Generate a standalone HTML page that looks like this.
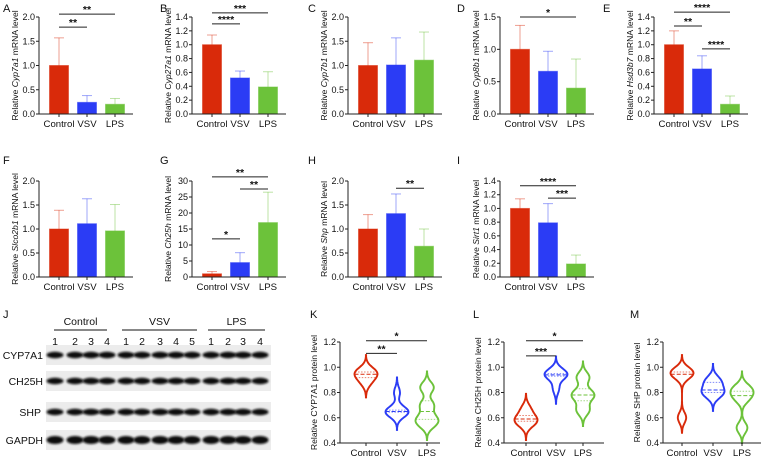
<!DOCTYPE html>
<html><head><meta charset="utf-8"><style>
html,body{margin:0;padding:0;background:#fff}
svg{display:block;font-family:"Liberation Sans",Arial,sans-serif}
</style></head><body>
<svg id="fig" width="761" height="456" viewBox="0 0 761 456">
<defs><filter id="blur" x="-20%" y="-50%" width="140%" height="200%"><feGaussianBlur stdDeviation="1.1"/></filter></defs>
</svg>
<script>
const categories=["Control","VSV","LPS"];
const aValues=[1.0,0.24,0.2], aErrors=[0.57,0.14,0.12];
const bValues=[1.0,0.52,0.39], bErrors=[0.14,0.1,0.22];
const cValues=[1.0,1.01,1.11], cErrors=[0.47,0.56,0.58];
const dValues=[1.0,0.66,0.40], dErrors=[0.37,0.31,0.45];
const eValues=[1.0,0.65,0.14], eErrors=[0.2,0.19,0.12];
const fValues=[1.0,1.11,0.96], fErrors=[0.39,0.52,0.55];
const gValues=[1.0,4.5,17.0], gErrors=[0.7,3.1,9.5];
const hValues=[1.0,1.32,0.64], hErrors=[0.3,0.41,0.36];
const iValues=[1.0,0.79,0.19], iErrors=[0.14,0.28,0.13];
const aTicks=[0,0.5,1,1.5,2], bTicks=[0,0.2,0.4,0.6,0.8,1.0,1.2,1.4], dTicks=[0,0.5,1,1.5], gTicks=[0,5,10,15,20,25,30];
const kControl=[0.88,0.93,0.96,0.97], kVSV=[0.63,0.645,0.65,0.66,0.80], kLPS=[0.55,0.60,0.70,0.84];
const lControl=[0.55,0.58,0.60,0.67], lVSV=[0.83,0.93,0.94,0.95,0.96], lLPS=[0.66,0.76,0.80,0.92];
const mControl=[0.60,0.93,0.96,0.97], mVSV=[0.78,0.80,0.82,0.88,0.90], mLPS=[0.52,0.75,0.80,0.84];
const violinTicks=[0.4,0.6,0.8,1.0,1.2];

const NS="http://www.w3.org/2000/svg", svg=document.getElementById('fig');
const colors=["#d92a0a","#2b3cf5","#6cc23a"];
function el(tag,attrs,parent){const e=document.createElementNS(NS,tag);for(const k in attrs)e.setAttribute(k,attrs[k]);(parent||svg).appendChild(e);return e;}
function txt(s,x,y,size,anchor,parent,extra){const t=el('text',Object.assign({x:x,y:y,'font-size':size,'text-anchor':anchor||'middle',fill:'#111'},extra||{}),parent);t.textContent=s;return t;}

function letter(s,x,y){const t=txt(s,x,y,11,'start');}

function yTitle(g,x,cy,pre,ital,post){
  const t=el('text',{x:0,y:0,'font-size':8.6,'text-anchor':'middle',fill:'#111',transform:`translate(${x},${cy}) rotate(-90)`},g);
  
  const a=el('tspan',{},t);a.textContent=pre;
  if(ital){const b=el('tspan',{'font-style':'italic'},t);b.textContent=ital;}
  const c=el('tspan',{},t);c.textContent=post;
}

function axes(g,ax,top,bot,max,min,ticks,dec,xEnd,cx,yFn){
  const ya=el('line',{x1:ax,y1:top,x2:ax,y2:bot,stroke:'#222','stroke-width':1},g);
  
  ticks.forEach(v=>{const y=yFn(v);el('line',{x1:ax-3,y1:y,x2:ax,y2:y,stroke:'#222'},g);
    const t=txt(v.toFixed(dec),ax-4,y+3,9,'end',g);});
  const xa=el('line',{x1:ax,y1:bot,x2:xEnd,y2:bot,stroke:'#222'},g);
  
  categories.forEach((c,i)=>{el('line',{x1:cx[i],y1:bot,x2:cx[i],y2:bot+3,stroke:'#222'},g);
    const t=txt(c,cx[i],bot+13,9.6,'middle',g);});
}

function sig(g,cx,yFn,sigs){
  sigs.forEach(s=>{const y=yFn(s[2]);
    const l=el('line',{x1:cx[s[0]],y1:y,x2:cx[s[1]],y2:y,stroke:'#222','stroke-width':1},g);
    
    const t=txt(s[3],(cx[s[0]]+cx[s[1]])/2,y-1,10.5,'middle',g,{'font-weight':'bold'});
    });
}

function barPanel(name,ax,top,bot,max,ticks,dec,vals,errs,sigs,pre,ital,post){
  const g=el('g',{});
  const cx=[ax+20,ax+48,ax+76];
  const yFn=v=>bot-(v/max)*(bot-top);
  vals.forEach((v,i)=>{
    const y=yFn(v+errs[i]);
    const e=el('line',{x1:cx[i],y1:yFn(v),x2:cx[i],y2:y,stroke:colors[i],'stroke-opacity':0.45,'stroke-width':1},g);
    
    el('line',{x1:cx[i]-5,y1:y,x2:cx[i]+5,y2:y,stroke:colors[i],'stroke-opacity':0.45},g);
    const r=el('rect',{x:cx[i]-9.5,y:yFn(v),width:19,height:bot-yFn(v),fill:colors[i],stroke:colors[i],'stroke-opacity':0.5},g);
    
  });
  axes(g,ax,top,bot,max,0,ticks,dec,ax+94,cx,yFn);
  sig(g,cx,yFn,sigs);
  yTitle(g,ax-21,(top+bot)/2,pre,ital,post);
}

barPanel('panel-a-cyp7a1',39,17,114,2,aTicks,1,aValues,aErrors,[[0,2,2.06,'**'],[0,1,1.79,'**']],'Relative ','Cyp7a1',' mRNA level');
barPanel('panel-b-cyp27a1',192,17,114,1.4,bTicks,1,bValues,bErrors,[[0,2,1.46,'***'],[0,1,1.30,'****']],'Relative ','Cyp27a1',' mRNA level');
barPanel('panel-c-cyp7b1',348,17,114,2,aTicks,1,cValues,cErrors,[],'Relative ','Cyp7b1',' mRNA level');
barPanel('panel-d-cyp8b1',500,17,114,1.5,dTicks,1,dValues,dErrors,[[0,2,1.5,'*']],'Relative ','Cyp8b1',' mRNA level');
barPanel('panel-e-hsd3b7',654,17,114,1.4,bTicks,1,eValues,eErrors,[[0,2,1.47,'****'],[0,1,1.27,'**'],[1,2,0.94,'****']],'Relative ','Hsd3b7',' mRNA level');
barPanel('panel-f-slco2b1',39,181,277,2,aTicks,1,fValues,fErrors,[],'Relative ','Slco2b1',' mRNA level');
barPanel('panel-g-ch25h',192,181,277,30,gTicks,0,gValues,gErrors,[[0,2,31.3,'**'],[1,2,27.5,'**'],[0,1,11.9,'*']],'Relative ','Ch25h',' mRNA level');
barPanel('panel-h-shp',348,181,277,2,aTicks,1,hValues,hErrors,[[1,2,1.85,'**']],'Relative ','Shp',' mRNA level');
barPanel('panel-i-sirt1',500,181,277,1.4,bTicks,1,iValues,iErrors,[[0,2,1.33,'****'],[1,2,1.15,'***']],'Relative ','Sirt1',' mRNA level');

function quant(a,p){const s=[...a].sort((x,y)=>x-y);const pos=(s.length-1)*p;const lo=Math.floor(pos),hi=Math.ceil(pos);return s[lo]+(s[hi]-s[lo])*(pos-lo);}
function violinPanel(name,ax,offs,groups,sigs,title){
  const top=342,bot=443,min=0.4,max=1.2;
  const g=el('g',{});
  const cx=offs.map(o=>ax+o);
  const yFn=v=>bot-(v-min)/(max-min)*(bot-top);
  groups.forEach((vals,i)=>{
    const h=0.042,lo=Math.max(min,Math.min(...vals)-3*h),hi=Math.max(...vals)+3*h;
    const pts=[];let dm=0;
    for(let k=0;k<=60;k++){const y=lo+(hi-lo)*k/60;let d=0;vals.forEach(v=>d+=Math.exp(-0.5*((y-v)/h)**2));pts.push([y,d]);dm=Math.max(dm,d);}
    const W=11.5;
    let p='';pts.forEach((q,k)=>{p+=(k?'L':'M')+(cx[i]+q[1]/dm*W).toFixed(1)+','+yFn(q[0]).toFixed(1);});
    for(let k=pts.length-1;k>=0;k--){p+='L'+(cx[i]-pts[k][1]/dm*W).toFixed(1)+','+yFn(pts[k][0]).toFixed(1);}
    const v=el('path',{d:p+'Z',fill:'none',stroke:colors[i],'stroke-width':1.9},g);
    
    const wAt=y=>{let d=0;vals.forEach(x=>d+=Math.exp(-0.5*((y-x)/h)**2));return d/dm*W;};
    [[0.25,'1.5,1.5'],[0.5,'4,2'],[0.75,'1.5,1.5']].forEach(qq=>{const q=quant(vals,qq[0]);const w=wAt(q);
      el('line',{x1:cx[i]-w,y1:yFn(q),x2:cx[i]+w,y2:yFn(q),stroke:colors[i],'stroke-width':1,'stroke-dasharray':qq[1],'stroke-opacity':qq[0]==0.5?1:0.6},g);});
  });
  axes(g,ax,top,bot,max,min,violinTicks,1,ax+100,cx,yFn);
  sig(g,cx,yFn,sigs);
  yTitle(g,ax-23,(top+bot)/2,'Relative '+title+' protein level','','');
}
violinPanel('panel-k-cyp7a1-protein',340,[26,57,87],[kControl,kVSV,kLPS],[[0,2,1.21,'*'],[0,1,1.11,'**']],'CYP7A1');
violinPanel('panel-l-ch25h-protein',504,[22,52,79],[lControl,lVSV,lLPS],[[0,2,1.21,'*'],[0,1,1.09,'***']],'CH25H');
violinPanel('panel-m-shp-protein',663,[19,50,79],[mControl,mVSV,mLPS],[],'SHP');

letter('A',3,12);letter('B',160,12);letter('C',308,12);letter('D',457,12);letter('E',603,12);
letter('F',3,164);letter('G',160,164);letter('H',308,164);letter('I',457,164);
letter('J',3,318);letter('K',310,318);letter('L',473,318);letter('M',630,318);

const wb=el('g',{});
const laneLabels=["1","2","3","4","1","2","3","4","5","1","2","3","4"];
const lanes=[55,75,91,107,126,142,160,176,192,211,228,243,260];
const groupsWB=[["Control",54,107],["VSV",122,197],["LPS",208,265]];
groupsWB.forEach(gr=>{const t=txt(gr[0],(gr[1]+gr[2])/2,325,10.5,'middle',wb);
  el('line',{x1:gr[1],y1:330,x2:gr[2],y2:330,stroke:'#111'},wb);});
laneLabels.forEach((s,i)=>{const t=txt(s,lanes[i],345,10.5,'middle',wb);});
const proteins=[["CYP7A1",355],["CH25H",381],["SHP",412],["GAPDH",440]];
proteins.forEach(p=>{
  const t=txt(p[0],p[0]=="SHP"?41:43,p[1]+4,10.5,'end',wb);
  el('rect',{x:46,y:p[1]-10,width:225,height:20,fill:'#ececec'},wb);
  lanes.forEach(x=>{el('ellipse',{cx:x,cy:p[1],rx:8.5,ry:p[0]=="GAPDH"?4:3.2,fill:'#111',filter:'url(#blur)'},wb);});
});
</script>
</body></html>
